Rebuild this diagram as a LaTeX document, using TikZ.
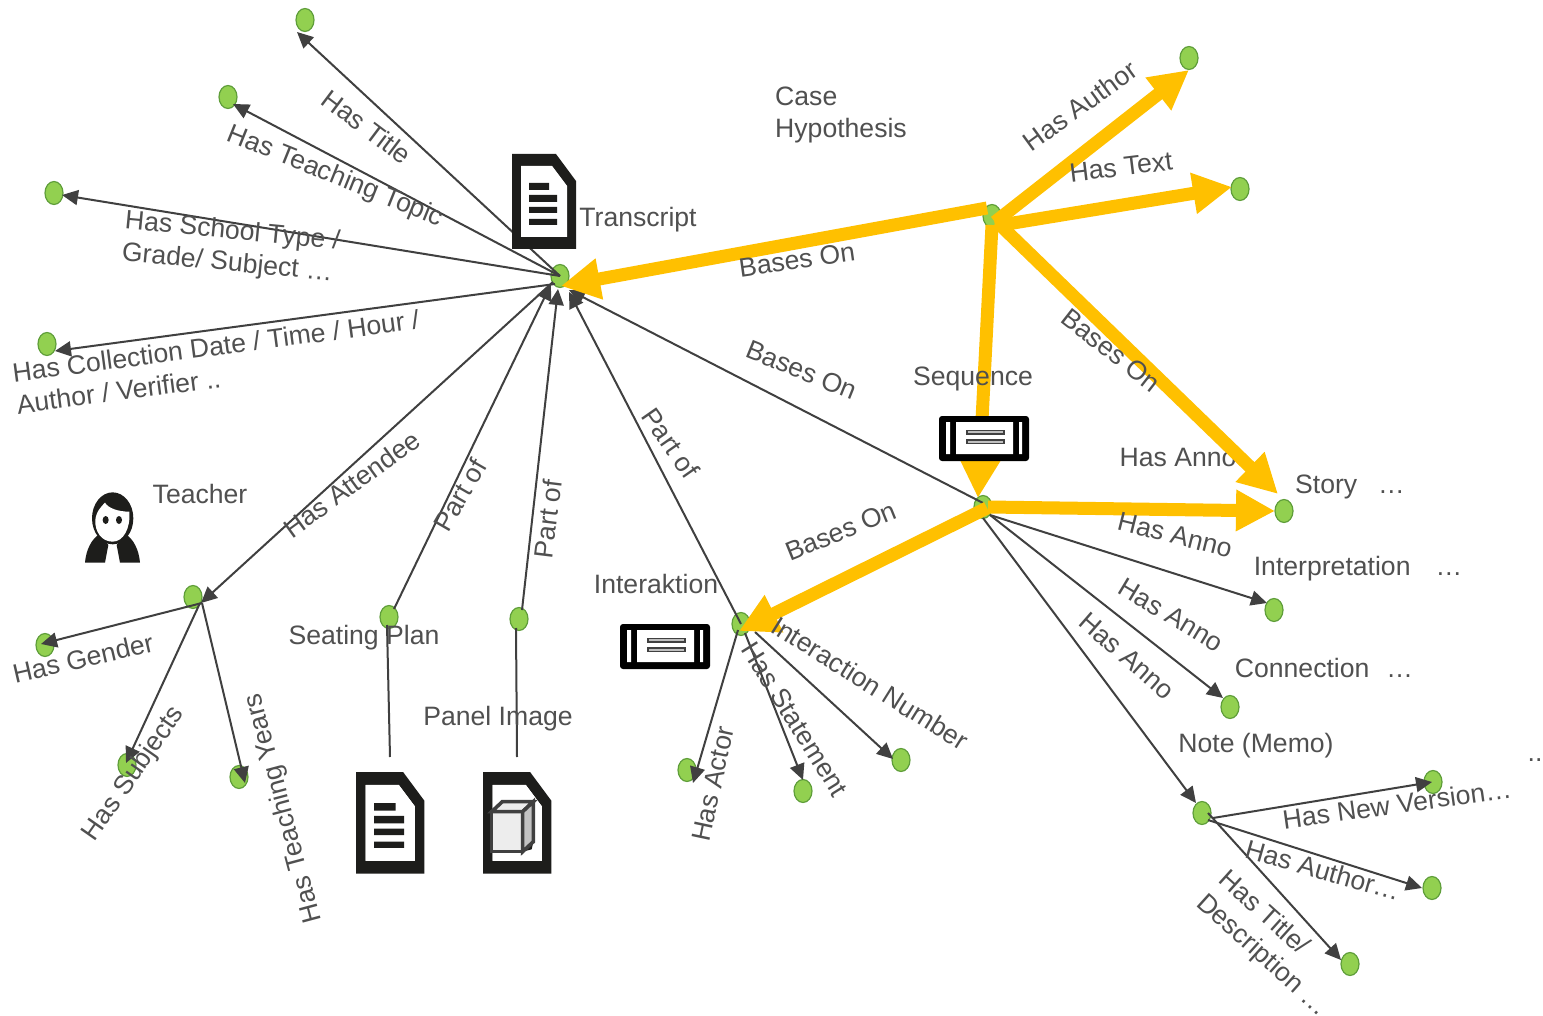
\documentclass[tikz,border=0pt]{standalone}
\usepackage{fontspec}
\setmainfont{Liberation Sans}
\usetikzlibrary{arrows.meta,shapes.geometric}
\definecolor{txtgray}{HTML}{505050}
\definecolor{linegray}{HTML}{404040}
\definecolor{gold}{HTML}{FFC000}
\definecolor{leaf}{HTML}{92D050}
\definecolor{leafedge}{HTML}{5F9E3A}
\definecolor{iconblack}{HTML}{1D1D1B}
\tikzset{
  dot/.style={ellipse,draw=leafedge,fill=leaf,line width=1.2pt,minimum width=18pt,minimum height=23pt,inner sep=0pt},
  thin arrow/.style={draw=linegray,line width=2pt,-{Triangle[length=16pt,width=15pt]}},
  plain link/.style={draw=linegray,line width=2pt},
  gold arrow/.style={draw=gold,line width=13pt,-{Triangle[length=39pt,width=39pt]}},
  lbl/.style={font=\fontsize{26.6}{32}\selectfont,text=txtgray,inner sep=0pt,align=left},
  docshape/.pic={
    \fill[iconblack,even odd rule] (0,0)--(44,0)--(64,27)--(64,95)--(0,95)--cycle
      (9,12)--(40,12)--(55,32)--(55,83)--(9,83)--cycle;
    \fill[white] (9,12)--(40,12)--(55,32)--(55,83)--(9,83)--cycle;
  },
  docbars/.pic={
    \fill[iconblack] (17,29) rectangle (37,36) (17,41) rectangle (45,48)
      (17,53) rectangle (45,59) (17,65) rectangle (45,71);
  },
  filmicon/.pic={
    \fill[black,rounded corners=3pt] (0,0) rectangle (90,45);
    \fill[white] (17,6) rectangle (74,38) (7,6) rectangle (11,38) (80,6) rectangle (83,38);
    \filldraw[fill=lightgray,draw=linegray,line width=1.4pt] (28,14.5) rectangle (65,18);
    \filldraw[fill=lightgray,draw=linegray,line width=1.4pt] (28,24) rectangle (65,27.5);
  }
}
\begin{document}
\begin{tikzpicture}[x=1pt,y=-1pt]
\useasboundingbox[fill=white] (0,0) rectangle (1543,1016);

% green nodes
\node[dot] (T) at (560,276) {};
\node[dot] (title) at (305,20) {};
\node[dot] (topic) at (228,97) {};
\node[dot] (school) at (54,193) {};
\node[dot] (date) at (47,344) {};
\node[dot] (hyp) at (992,216) {};
\node[dot] (author) at (1189,58) {};
\node[dot] (text) at (1240,189) {};
\node[dot] (story) at (1284,511) {};
\node[dot] (B) at (983,507) {};
\node[dot] (interp) at (1274,610) {};
\node[dot] (conn) at (1230,707) {};
\node[dot] (memo) at (1202,813) {};
\node[dot] (inter) at (741,624) {};
\node[dot] (attend) at (193,597) {};
\node[dot] (gender) at (45,645) {};
\node[dot] (subj) at (127,765) {};
\node[dot] (years) at (239,777) {};
\node[dot] (seat) at (389,617) {};
\node[dot] (panel) at (519,619) {};
\node[dot] (actor) at (687,770) {};
\node[dot] (stmt) at (803,791) {};
\node[dot] (number) at (901,760) {};
\node[dot] (newv) at (1433,782) {};
\node[dot] (auth2) at (1432,888) {};
\node[dot] (title2) at (1350,964) {};

% free ends of the thin connectors (they stop off-centre at the nodes)
\foreach \n/\px/\py in {
  aTitle/297/32, aTopic/233/104, aSchool/62/195, aDate/55/351,
  aAttend/201/603, sAttend/553/282, sDate/555/284,
  aSeat/551/284, aPanel/558/289, aInterT/569/292, aBT/569/290,
  sBT/983/503, sSeat/394/609, sPanel/522/610,
  sG/202/603, aG/41/644, sS/200/603, aS/126/763, sY/202/603, aY/245/783,
  sActor/738/630, aActor/693/783, sStmt/745/633, aStmt/803/780, sNum/755/632, aNum/893/759,
  sI/990/515, aI/1267/603, sC/990/515, aC/1223/698, sM/983/518, aM/1196/803,
  sNew/1213/818, aNew/1432/782, sA2/1208/820, aA2/1422/888, sT2/1208/813, aT2/1341/960,
  seatdoc/390/757, paneldoc/517/757, sSeatLow/387/625, sPanelLow/516/628}
  {\coordinate (\n) at (\px,\py);}

% thin connectors
\draw[thin arrow] (T.center) -- (aTitle);
\draw[thin arrow] (T.center) -- (aTopic);
\draw[thin arrow] (T.center) -- (aSchool);
\draw[thin arrow] (sDate) -- (aDate);
\draw[thin arrow] (sAttend) -- (aAttend);
\draw[thin arrow] (sSeat) -- (aSeat);
\draw[thin arrow] (sPanel) -- (aPanel);
\draw[thin arrow] (inter.center) -- (aInterT);
\draw[thin arrow] (sBT) -- (aBT);
\draw[thin arrow] (sG) -- (aG);
\draw[thin arrow] (sS) -- (aS);
\draw[thin arrow] (sY) -- (aY);
\draw[thin arrow] (sActor) -- (aActor);
\draw[thin arrow] (sStmt) -- (aStmt);
\draw[thin arrow] (sNum) -- (aNum);
\draw[thin arrow] (sI) -- (aI);
\draw[thin arrow] (sC) -- (aC);
\draw[thin arrow] (sM) -- (aM);
\draw[thin arrow] (sNew) -- (aNew);
\draw[thin arrow] (sA2) -- (aA2);
\draw[thin arrow] (sT2) -- (aT2);
\draw[plain link] (seatdoc) -- (sSeatLow);
\draw[plain link] (paneldoc) -- (sPanelLow);

% label beneath the gold arrow
\node[lbl] (annoA) at (1178,457) {Has Anno};

% gold connectors
\coordinate (hT) at (987,208);
\coordinate (tT) at (561,286);
\coordinate (hA) at (995,222);
\coordinate (tA) at (1189,70);
\coordinate (hX) at (995,226);
\coordinate (tX) at (1232,187);
\coordinate (hS) at (997,222);
\coordinate (tS) at (1278,494);
\coordinate (hB) at (992,225);
\coordinate (tB) at (978,498);
\coordinate (bS) at (988,507);
\coordinate (tbS) at (1275,511);
\coordinate (bI) at (987,508);
\coordinate (tbI) at (739,631);
\draw[gold arrow] (hT) -- (tT);
\draw[gold arrow] (hA) -- (tA);
\draw[gold arrow] (hX) -- (tX);
\draw[gold arrow] (hS) -- (tS);
\draw[gold arrow] (hB) -- (tB);
\draw[gold arrow] (bS) -- (tbS);
\draw[gold arrow] (bI) -- (tbI);

% icons
\pic at (512,154) {docshape};
\pic at (512,154) {docbars};
\pic[scale=1.07] at (356,772) {docshape};
\pic[scale=1.07] at (356,772) {docbars};
\pic[scale=1.07] at (483,772) {docshape};
\pic at (939,416) {filmicon};
\pic at (620,624) {filmicon};
% cube
\begin{scope}[shift={(340,760)},scale=1/3,line width=3.6pt,draw=linegray]
  \fill[iconblack] (548,275)--(580,245)--(575,268)--cycle;
  \filldraw[fill=white!93!black] (455,155) rectangle (548,275);
  \filldraw[fill=white!93!black] (455,155)--(487,125)--(580,125)--(548,155)--cycle;
  \filldraw[fill=white!76!black] (548,155)--(580,125)--(580,245)--(548,275)--cycle;
\end{scope}
% teacher
\begin{scope}[shift={(60,470)},scale=1/3]
  \fill[iconblack] (158,145) ellipse [x radius=62,y radius=78];
  \fill[iconblack] (75,278) .. controls (78,240) and (95,205) .. (120,192) -- (145,225) -- (135,278) -- cycle;
  \fill[iconblack] (240,278) .. controls (237,240) and (220,205) .. (195,192) -- (170,225) -- (180,278) -- cycle;
  \fill[white] (106,150) .. controls (108,125) and (125,108) .. (135,98)
     .. controls (145,115) and (175,125) .. (208,125)
     .. controls (212,175) and (190,215) .. (158,215)
     .. controls (125,215) and (104,185) .. (106,150) -- cycle;
  \fill[iconblack] (137,150) ellipse [x radius=9,y radius=12];
  \fill[iconblack] (177,150) ellipse [x radius=9,y radius=12];
\end{scope}

% labels
\node[lbl,rotate=-37] (l1) at (367,127) {Has Title};
\node[lbl,rotate=-22] (l2) at (335,177) {Has Teaching Topic};
\node[lbl,rotate=-5.5] (l3) at (231,248) {Has School Type /\\Grade/ Subject …};
\node[lbl,rotate=7.5] (l4) at (218,362) {Has Collection Date / Time / Hour /\\Author / Verifier ..};
\node[lbl,rotate=36] (l5) at (352,484) {Has Attendee};
\node[lbl,rotate=60] (l6) at (460,495) {Part of};
\node[lbl,rotate=83] (l7) at (548,519) {Part of};
\node[lbl,rotate=-55] (l8) at (671,443) {Part of};
\node[lbl,rotate=-22] (l9) at (802,370) {Bases On};
\node[lbl,rotate=8] (l10) at (797,260) {Bases On};
\node[lbl,rotate=22] (l11) at (841,531) {Bases On};
\node[lbl,rotate=-38] (l12) at (1111,350) {Bases On};
\node[lbl,rotate=36] (l13) at (1080,106) {Has Author};
\node[lbl,rotate=7] (l14) at (1121,167) {Has Text};
\node[lbl,rotate=-14] (l15) at (1175,535) {Has Anno};
\node[lbl,rotate=-31] (l16) at (1171,615) {Has Anno};
\node[lbl,rotate=-41] (l17) at (1127,656) {Has Anno};
\node[lbl,rotate=13] (l18) at (83,658) {Has Gender};
\node[lbl,rotate=55] (l19) at (134,774) {Has Subjects};
\node[lbl,rotate=105] (l20) at (284,808) {Has Teaching Years};
\node[lbl,rotate=78] (l21) at (713,784) {Has Actor};
\node[lbl,rotate=-58] (l22) at (795,719) {Has Statement};
\node[lbl,rotate=-32] (l23) at (870,683) {Interaction Number};
\node[lbl,rotate=8] (l24) at (1397,804) {Has New Version…};
\node[lbl,rotate=-16] (l25) at (1323,870) {Has Author…};
\node[lbl,rotate=-42] (l26) at (1273,944) {Has Title/\\Description …};
\node[lbl] (n1) at (841,115) {Case\\Hypothesis};
\node[lbl] (n2) at (638,220) {Transcript};
\node[lbl] (n3) at (973,379) {Sequence};
\node[lbl] (n4) at (1350,487) {Story\hspace{21pt}…};
\node[lbl] (n5) at (1358,569) {Interpretation\hspace{25pt}…};
\node[lbl] (n6) at (1324,668) {Connection\hspace{17pt}…};
\node[lbl] (n7) at (1256,746) {Note (Memo)};
\node[lbl] (n8) at (200,494) {Teacher};
\node[lbl] (n9) at (364,638) {Seating Plan};
\node[lbl] (n10) at (498,719) {Panel Image};
\node[lbl] (n11) at (656,584) {Interaktion};
\node[lbl] (n12) at (1535,760) {..};
\end{tikzpicture}
\end{document}
